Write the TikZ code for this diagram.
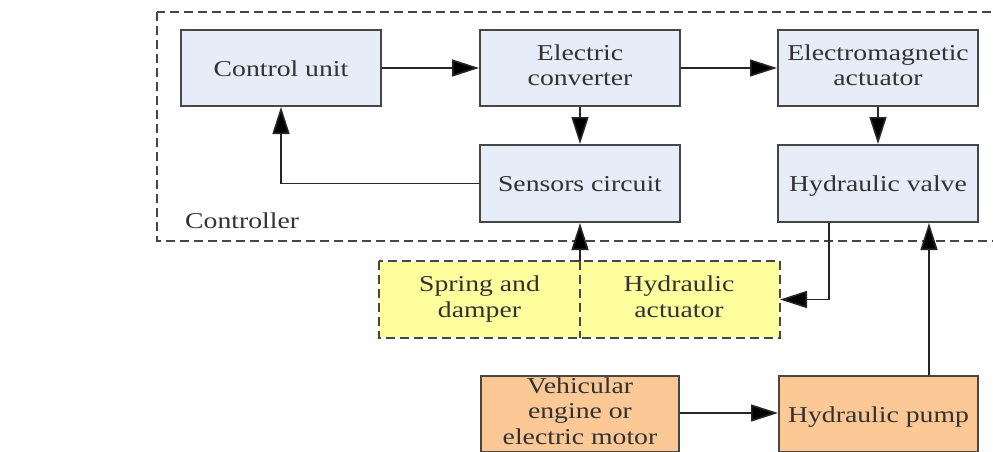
\documentclass[tikz,border=0pt]{standalone}
\usepackage{fontspec}
\setmainfont{Liberation Serif}[FakeStretch=1.22]
\usetikzlibrary{arrows.meta}
\definecolor{blockblue}{RGB}{230,236,248}
\definecolor{blockyellow}{RGB}{255,255,158}
\definecolor{blockorange}{RGB}{252,200,150}
\definecolor{edgegray}{RGB}{70,70,70}
\definecolor{textgray}{RGB}{50,50,50}
\newcommand{\topstrut}{\rule{0pt}{22pt}}
\newcommand{\botstrut}{\rule[-6pt]{0pt}{6pt}}
\tikzset{
  block/.style={draw=edgegray, line width=2pt, minimum width=200pt, minimum height=76pt,
    align=center, text=textgray, font=\fontsize{22.7}{25.5}\selectfont, inner sep=0pt,
    execute at begin node=\topstrut, execute at end node=\botstrut},
  link/.style={line width=1.6pt, draw=black!85, -{Triangle[length=27pt,width=17pt,fill=black]}},
}
\begin{document}
\begin{tikzpicture}[x=1pt, y=-1pt]
  \useasboundingbox (0,0) rectangle (993,451);
  \clip (0,0) rectangle (993,451);

  % Controller frame
  \draw[edgegray, line width=2pt, dash pattern=on 9pt off 5pt] (157,12) rectangle (1003,241);
  \node[anchor=base west, text=textgray, font=\fontsize{22.7}{25.5}\selectfont, inner sep=0pt]
    (ctrl) at (185,228) {Controller};

  % Blocks in the controller
  \node[block, fill=blockblue] (cu)  at (281,68)    {Control unit};
  \node[block, fill=blockblue] (ec)  at (580,68)    {Electric\\converter};
  \node[block, fill=blockblue] (ema) at (878,68)    {Electromagnetic\\actuator};
  \node[block, fill=blockblue, minimum height=77pt] (sc) at (580,183.5) {Sensors circuit};
  \node[block, fill=blockblue, minimum height=77pt] (hv) at (878,183.5) {Hydraulic valve};

  % Suspension
  \node[block, draw=none, fill=blockyellow, minimum width=199pt, minimum height=75pt]
    (sd) at (479.5,299.5) {Spring and\\damper};
  \node[block, draw=none, fill=blockyellow, minimum height=75pt]
    (ha) at (679,299.5) {Hydraulic\\actuator};
  \draw[edgegray, line width=2pt, dash pattern=on 9pt off 5pt] (sd.north west) rectangle (ha.south east);
  \draw[edgegray, line width=2pt, dash pattern=on 9pt off 5pt] (sd.north east) -- (sd.south east);

  % Power source
  \node[block, fill=blockorange, minimum width=198pt] (ve) at (580,414)   {Vehicular\\engine or\\electric motor};
  \node[block, fill=blockorange, minimum width=199pt] (hp) at (878.5,414) {Hydraulic pump};

  % Signal and oil flow
  \draw[link] (cu) -- (ec);
  \draw[link] (ec) -- (ema);
  \draw[link] (ec) -- (sc);
  \draw[link] (ema) -- (hv);
  \draw[link] (sc.west) -| (cu.south);
  \draw[link] (sd.north east) -- (sc.south);
  \draw[link] ([xshift=-49pt]hv.south) |- (ha.east);
  \draw[link] ([xshift=50.5pt]hp.north) -- ([xshift=51pt]hv.south);
  \draw[link] (ve.east |- 0,413) -- (hp.west |- 0,413);

\end{tikzpicture}
\end{document}
